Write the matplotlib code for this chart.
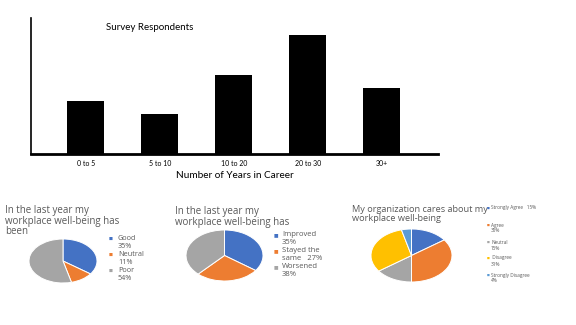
import matplotlib
matplotlib.use("Agg")
import matplotlib.pyplot as plt

# bar chart data
career_bins = ["0 to 5", "5 to 10", "10 to 20", "20 to 30", "30+"]
respondents = [4, 3, 6, 9, 5]

# pie 1
wb_labels = ["Good\n35%", "Neutral\n11%", "Poor\n54%"]
wb_values = [35, 11, 54]

# pie 2
change_labels = ["Improved\n35%", "Stayed the\nsame   27%", "Worsened\n38%"]
change_values = [35, 27, 38]

# pie 3
org_labels = ["Strongly Agree   15%", "Agree\n35%", "Neutral\n15%", " Disagree\n31%",
              "Strongly Disagree\n4%"]
org_values = [15, 35, 15, 31, 4]

BLUE, ORANGE, GRAY, YELLOW, LBLUE = "#4472C4", "#ED7D31", "#A5A5A5", "#FFC000", "#5B9BD5"
TXT = "#595959"
W, H = 576, 325

fig = plt.figure(figsize=(W / 100, H / 100), dpi=100)


def px_axes(left, top, width, height):
    return fig.add_axes([left / W, 1 - (top + height) / H, width / W, height / H])


def fx(x):
    return x / W


def fy(y):
    return 1 - y / H


# ---- bar chart ----
ax = px_axes(31, 18, 407, 136)
ax.bar(range(len(career_bins)), respondents, width=0.5, color="black")
ax.set_xlim(-0.74, 4.76)
ax.set_ylim(0, 10.3)
ax.set_xticks(range(len(career_bins)))
ax.set_xticklabels(career_bins, fontsize=5, family="Lato")
ax.tick_params(axis="x", length=0, pad=4)
ax.set_yticks([])
for s in ["top", "right"]:
    ax.spines[s].set_visible(False)
ax.spines["left"].set_linewidth(1.2)
ax.spines["bottom"].set_linewidth(2)
ax.set_xlabel("Number of Years in Career", fontsize=7.2, family="Lato", labelpad=3)
fig.text(fx(106), fy(27), "Survey Respondents", fontsize=7, family="Lato", va="center")


def draw_pie(box, values, colors):
    pax = px_axes(*box)
    pax.pie(values, colors=colors, startangle=90, counterclock=False,
            wedgeprops=dict(edgecolor="white", linewidth=0.7))
    pax.set_aspect("auto")
    pax.set_xlim(-1, 1)
    pax.set_ylim(-1, 1)
    return pax


def legend(x_mark, x_text, ys, labels, colors, size, msize, step):
    for y, label, c in zip(ys, labels, colors):
        fig.text(fx(x_mark), fy(y), "\u25a0", color=c, fontsize=msize, va="center", ha="center")
        for i, line in enumerate(label.split("\n")):
            fig.text(fx(x_text), fy(y + i * step), line, color=TXT, fontsize=size,
                     va="center", family="Open Sans")


# ---- pie 1 ----
draw_pie((29, 239, 68, 44), wb_values, [BLUE, ORANGE, GRAY])
fig.text(fx(5), fy(205), "In the last year my\nworkplace well-being has\nbeen", color=TXT,
         fontsize=7.0, va="top", family="Open Sans", linespacing=0.95)
legend(111, 118, [239, 255, 271], wb_labels, [BLUE, ORANGE, GRAY], 5.2, 3, 7)

# ---- pie 2 ----
draw_pie((186, 230, 77, 51), change_values, [BLUE, ORANGE, GRAY])
fig.text(fx(175), fy(206), "In the last year my\nworkplace well-being has", color=TXT,
         fontsize=7.0, va="top", family="Open Sans", linespacing=1.0)
legend(276, 282, [235, 251, 267], change_labels, [BLUE, ORANGE, GRAY], 5.5, 3.5, 7)

# ---- pie 3 ----
draw_pie((371, 229, 81, 53), org_values, [BLUE, ORANGE, GRAY, YELLOW, LBLUE])
fig.text(fx(352), fy(205), "My organization cares about my\nworkplace well-being", color=TXT,
         fontsize=6.6, va="top", family="Open Sans", linespacing=1.0)
legend(488, 491, [208, 225, 242, 258, 275], org_labels,
       [BLUE, ORANGE, GRAY, YELLOW, LBLUE], 3.4, 2.2, 6)

fig.savefig("out.png", dpi=100)
